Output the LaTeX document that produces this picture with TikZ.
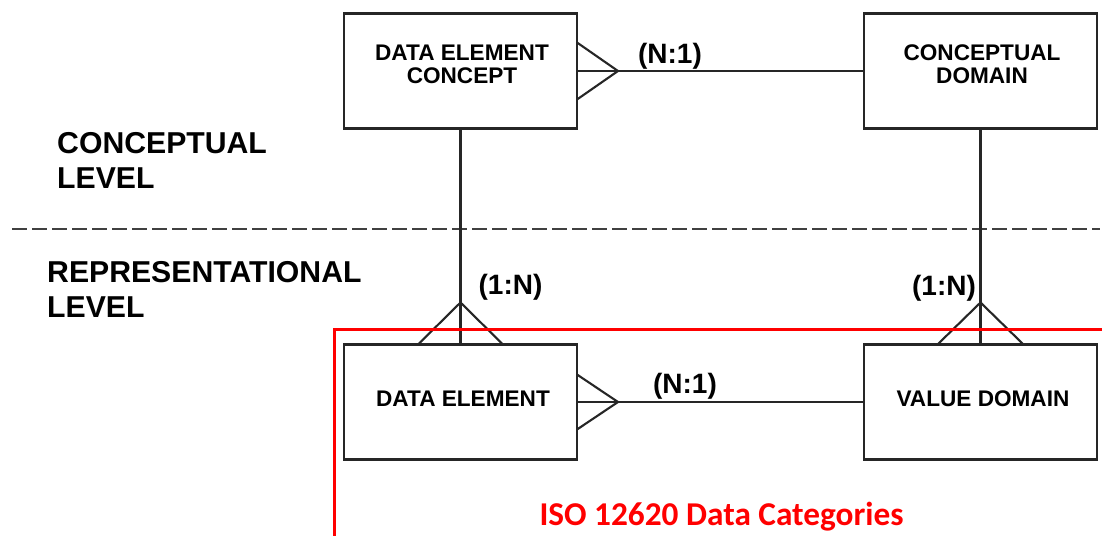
\documentclass[tikz,border=0pt]{standalone}
\usepackage{fontspec}
\setmainfont{Liberation Sans}
\newfontfamily\calib{Carlito}
\begin{document}
\begin{tikzpicture}[x=1pt,y=-1pt,
  entity/.style={draw=black!85, line width=2.1pt, minimum width=233pt,
    minimum height=115pt, inner sep=0pt, outer sep=0pt},
  conn/.style={draw=black!85, line width=2.1pt},
  boxtext/.style={font=\bfseries\fontsize{22.6}{23}\selectfont, inner sep=0pt, anchor=base},
  card/.style={font=\bfseries\fontsize{28}{30}\selectfont, inner sep=0pt},
  level/.style={font=\bfseries\fontsize{30.2}{35}\selectfont, inner sep=0pt, anchor=base west},
  frame/.style={draw=red, line width=3pt},
]
\useasboundingbox (0,0) rectangle (1102,536);
\fill[white] (0,0) rectangle (1102,536);

% entity boxes
\node[entity] (dec) at (460.5,71) {};
\node[entity] (cd)  at (980.5,71) {};
\node[entity] (de)  at (460.5,402) {};
\node[entity] (vd)  at (980.5,402) {};

% box captions
\node[boxtext] (dect) at (462,60) {\begin{tabular}[t]{@{}c@{}}DATA ELEMENT\\CONCEPT\end{tabular}};
\node[boxtext] (cdt)  at (982,60) {\begin{tabular}[t]{@{}c@{}}CONCEPTUAL\\DOMAIN\end{tabular}};
\node[boxtext] (det)  at (463,406) {DATA ELEMENT};
\node[boxtext] (vdt)  at (983,406) {VALUE DOMAIN};

% level separator
\coordinate (dl) at (12,229);
\coordinate (dr) at (1100,229);
\draw[black!75, line width=2pt, dash pattern=on 15pt off 5pt] (dl) -- (dr);

% level captions
\node[level] (cl) at (57,153) {\begin{tabular}[t]{@{}l@{}}CONCEPTUAL\\LEVEL\end{tabular}};
\node[level] (rl) at (47,282) {\begin{tabular}[t]{@{}l@{}}REPRESENTATIONAL\\LEVEL\end{tabular}};

% concept -> conceptual domain (N:1)
\coordinate (p1) at ([xshift=41pt]dec.east);
\draw[conn] (dec.east) -- (cd.west);
\draw[conn] ([yshift=28.5pt]dec.east) -- (p1) -- ([yshift=-28.5pt]dec.east);

% data element -> value domain (N:1)
\coordinate (p2) at ([xshift=41pt]de.east);
\draw[conn] (de.east) -- (vd.west);
\draw[conn] ([yshift=27.5pt]de.east) -- (p2) -- ([yshift=-27.5pt]de.east);

% concept -> data element (1:N)
\coordinate (p3) at ([yshift=42pt]de.north);
\draw[conn] (dec.south) -- (de.north);
\draw[conn] ([xshift=-42.5pt]de.north) -- (p3) -- ([xshift=42.5pt]de.north);

% conceptual domain -> value domain (1:N)
\coordinate (p4) at ([yshift=42pt]vd.north);
\draw[conn] (cd.south) -- (vd.north);
\draw[conn] ([xshift=-43pt]vd.north) -- (p4) -- ([xshift=43pt]vd.north);

% cardinalities
\node[card] (c1) at (670,56.5) {(N:1)};
\node[card] (c2) at (685,386) {(N:1)};
\node[card] (c3) at (510.5,287) {(1:N)};
\node[card] (c4) at (944,288) {(1:N)};

% data category frame
\coordinate (rtr) at (1102,329);
\coordinate (rc)  at (334,329);
\coordinate (rb)  at (334,536);
\draw[frame] (rtr) -- (rc) -- (rb);
\node[font=\calib\bfseries\fontsize{33.3}{36}\selectfont, text=red, anchor=base, inner sep=0pt]
  (iso) at (721.5,525) {ISO 12620 Data Categories};
\end{tikzpicture}
\end{document}
